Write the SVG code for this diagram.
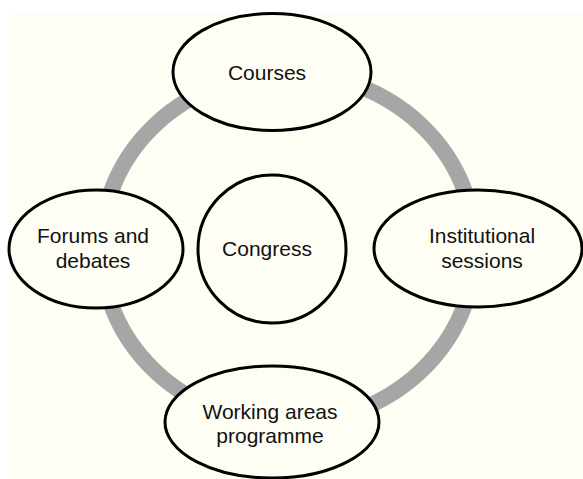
<svg xmlns="http://www.w3.org/2000/svg" width="583" height="479" viewBox="0 0 583 479">
  <style>
    .node { fill: #fefef5; stroke: #000; stroke-width: 3; }
    .ring { fill: none; stroke: #a6a6a6; stroke-width: 16; }
    .label { font-family: "Liberation Sans", Arial, sans-serif; font-size: 21px; fill: #111; text-anchor: middle; }
  </style>
  <rect x="0" y="0" width="583" height="479" fill="#ffffff"/>
  <rect x="9" y="13" width="574" height="466" fill="#fefef5"/>

  <!-- connecting ring behind the nodes -->
  <g id="connectors">
    <ellipse class="ring" cx="288" cy="248" rx="187" ry="175"/>
  </g>

  <g id="courses">
    <ellipse class="node" cx="272" cy="72" rx="99" ry="58.5"/>
    <text class="label" x="267" y="80">Courses</text>
  </g>

  <g id="congress">
    <circle class="node" cx="272" cy="249" r="74"/>
    <text class="label" x="267" y="256">Congress</text>
  </g>

  <g id="forums">
    <ellipse class="node" cx="96" cy="249" rx="87" ry="59"/>
    <text class="label" x="93" y="243">Forums and</text>
    <text class="label" x="93" y="268">debates</text>
  </g>

  <g id="institutional">
    <ellipse class="node" cx="478" cy="248.5" rx="104" ry="58.5"/>
    <text class="label" x="482" y="243">Institutional</text>
    <text class="label" x="482" y="268">sessions</text>
  </g>

  <g id="working">
    <ellipse class="node" cx="272" cy="422" rx="107" ry="56"/>
    <text class="label" x="270" y="419">Working areas</text>
    <text class="label" x="270" y="443">programme</text>
  </g>
</svg>
